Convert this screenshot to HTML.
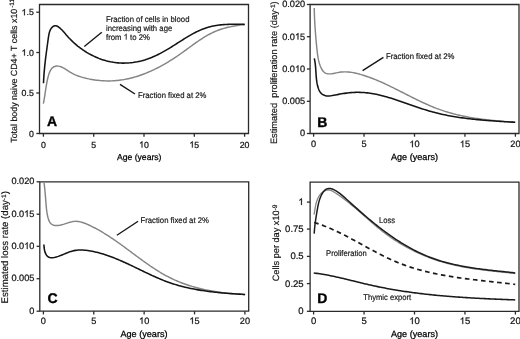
<!DOCTYPE html>
<html><head><meta charset="utf-8"><style>
html,body{margin:0;padding:0;background:#fff;}
svg{display:block;filter:grayscale(1);}
text{font-family:"Liberation Sans", sans-serif;text-rendering:geometricPrecision;}
.t{fill:#111;stroke:#111;stroke-width:0.22px;}
.a{fill:#151515;stroke:#151515;stroke-width:0.18px;}
.x{fill:#000;stroke:#000;stroke-width:0.25px;}
.y{fill:#111;stroke:#111;stroke-width:0.16px;}
.t1{fill:#111;stroke:#111;stroke-width:0.22px;}
.a1{fill:#151515;stroke:#151515;stroke-width:0.18px;}
.p{fill:#000;stroke:#000;stroke-width:0.35px;font-weight:bold;}
</style></head><body>
<svg width="520" height="339" viewBox="0 0 520 339">
<rect width="520" height="339" fill="#fff"/>
<path d="M39.5 4.5H248.5V133.5H39.5Z" fill="none" stroke="#2b2b2b" stroke-width="1.3"/>
<line x1="36.3" y1="133.5" x2="39.5" y2="133.5" stroke="#2b2b2b" stroke-width="1.3"/>
<text class="t" x="33.8" y="136.6" font-size="8.8" text-anchor="end">0</text>
<line x1="36.3" y1="93.0" x2="39.5" y2="93.0" stroke="#2b2b2b" stroke-width="1.3"/>
<text class="t" x="33.8" y="96.1" font-size="8.8" text-anchor="end">0.5</text>
<line x1="36.3" y1="52.5" x2="39.5" y2="52.5" stroke="#2b2b2b" stroke-width="1.3"/>
<path class="t1" d="M763 0H583V1147Q518 1085 412 1023T222 930V1104Q373 1175 486 1276T646 1472H763Z" transform="translate(21.57 55.6) scale(0.004297 -0.004297)" vector-effect="non-scaling-stroke"/>
<text class="t" x="33.8" y="55.6" font-size="8.8" text-anchor="end">&#8199;.0</text>
<line x1="36.3" y1="12.2" x2="39.5" y2="12.2" stroke="#2b2b2b" stroke-width="1.3"/>
<path class="t1" d="M763 0H583V1147Q518 1085 412 1023T222 930V1104Q373 1175 486 1276T646 1472H763Z" transform="translate(21.57 15.3) scale(0.004297 -0.004297)" vector-effect="non-scaling-stroke"/>
<text class="t" x="33.8" y="15.3" font-size="8.8" text-anchor="end">&#8199;.5</text>
<line x1="43.4" y1="133.5" x2="43.4" y2="136.7" stroke="#2b2b2b" stroke-width="1.3"/>
<text class="t" x="43.4" y="147.6" font-size="8.8" text-anchor="middle">0</text>
<line x1="93.7" y1="133.5" x2="93.7" y2="136.7" stroke="#2b2b2b" stroke-width="1.3"/>
<text class="t" x="93.7" y="147.6" font-size="8.8" text-anchor="middle">5</text>
<line x1="144.0" y1="133.5" x2="144.0" y2="136.7" stroke="#2b2b2b" stroke-width="1.3"/>
<path class="t1" d="M763 0H583V1147Q518 1085 412 1023T222 930V1104Q373 1175 486 1276T646 1472H763Z" transform="translate(139.11 147.6) scale(0.004297 -0.004297)" vector-effect="non-scaling-stroke"/>
<text class="t" x="144.0" y="147.6" font-size="8.8" text-anchor="middle">&#8199;0</text>
<line x1="194.3" y1="133.5" x2="194.3" y2="136.7" stroke="#2b2b2b" stroke-width="1.3"/>
<path class="t1" d="M763 0H583V1147Q518 1085 412 1023T222 930V1104Q373 1175 486 1276T646 1472H763Z" transform="translate(189.41 147.6) scale(0.004297 -0.004297)" vector-effect="non-scaling-stroke"/>
<text class="t" x="194.3" y="147.6" font-size="8.8" text-anchor="middle">&#8199;5</text>
<line x1="244.60000000000002" y1="133.5" x2="244.60000000000002" y2="136.7" stroke="#2b2b2b" stroke-width="1.3"/>
<text class="t" x="244.6" y="147.6" font-size="8.8" text-anchor="middle">20</text>
<path d="M43.30 103.60 L43.63 102.07 L43.93 100.56 L44.21 99.05 L44.46 97.56 L44.70 96.08 L44.93 94.60 L45.15 93.13 L45.36 91.67 L45.58 90.20 L45.79 88.73 L46.02 87.26 L46.26 85.78 L46.51 84.29 L46.78 82.80 L47.08 81.29 L47.41 79.77 L47.76 78.24 L48.16 76.68 L48.60 75.12 L49.09 73.57 L49.66 72.09 L50.32 70.69 L51.08 69.42 L51.96 68.32 L52.98 67.41 L54.15 66.74 L55.43 66.30 L56.79 66.09 L58.19 66.10 L59.59 66.34 L60.98 66.77 L62.36 67.36 L63.74 68.09 L65.11 68.90 L66.48 69.77 L67.84 70.67 L69.20 71.56 L70.57 72.40 L71.93 73.17 L73.30 73.89 L74.67 74.54 L76.05 75.15 L77.43 75.70 L78.82 76.21 L80.22 76.68 L81.63 77.12 L83.05 77.52 L84.49 77.90 L85.93 78.26 L87.39 78.59 L88.86 78.91 L90.35 79.20 L91.84 79.48 L93.34 79.73 L94.85 79.96 L96.36 80.16 L97.89 80.34 L99.41 80.50 L100.94 80.64 L102.47 80.75 L104.00 80.83 L105.54 80.89 L107.07 80.93 L108.60 80.94 L110.12 80.92 L111.64 80.88 L113.16 80.81 L114.67 80.71 L116.18 80.59 L117.69 80.45 L119.19 80.28 L120.68 80.08 L122.17 79.86 L123.65 79.62 L125.13 79.36 L126.61 79.07 L128.08 78.76 L129.55 78.43 L131.01 78.07 L132.46 77.70 L133.91 77.30 L135.36 76.88 L136.80 76.45 L138.24 75.99 L139.67 75.52 L141.09 75.02 L142.51 74.51 L143.92 73.98 L145.33 73.43 L146.74 72.87 L148.14 72.29 L149.53 71.69 L150.91 71.07 L152.30 70.44 L153.67 69.80 L155.04 69.13 L156.41 68.46 L157.76 67.77 L159.12 67.07 L160.46 66.35 L161.81 65.62 L163.14 64.88 L164.47 64.12 L165.79 63.36 L167.11 62.58 L168.42 61.79 L169.72 60.99 L171.02 60.18 L172.31 59.36 L173.60 58.53 L174.88 57.69 L176.15 56.84 L177.42 55.99 L178.68 55.12 L179.93 54.25 L181.18 53.37 L182.42 52.49 L183.66 51.60 L184.89 50.71 L186.12 49.81 L187.34 48.92 L188.57 48.02 L189.79 47.13 L191.01 46.23 L192.24 45.35 L193.46 44.46 L194.69 43.58 L195.92 42.71 L197.15 41.85 L198.39 41.00 L199.63 40.16 L200.88 39.33 L202.14 38.52 L203.40 37.72 L204.68 36.94 L205.96 36.17 L207.25 35.42 L208.56 34.70 L209.87 33.99 L211.20 33.31 L212.55 32.65 L213.90 32.01 L215.27 31.40 L216.66 30.82 L218.07 30.26 L219.49 29.74 L220.93 29.24 L222.38 28.78 L223.86 28.34 L225.34 27.93 L226.83 27.55 L228.34 27.19 L229.85 26.85 L231.36 26.54 L232.87 26.24 L234.39 25.96 L235.90 25.70 L237.41 25.46 L238.91 25.22 L240.40 25.00 L241.88 24.79 L243.35 24.59 L244.80 24.40" fill="none" stroke="#858585" stroke-width="1.45"/>
<path d="M43.50 83.20 L43.56 81.67 L43.64 80.15 L43.72 78.63 L43.81 77.11 L43.91 75.61 L44.02 74.10 L44.14 72.60 L44.26 71.10 L44.40 69.61 L44.54 68.12 L44.68 66.63 L44.84 65.14 L45.00 63.66 L45.16 62.17 L45.33 60.68 L45.51 59.20 L45.69 57.71 L45.87 56.23 L46.06 54.74 L46.26 53.25 L46.45 51.76 L46.65 50.27 L46.86 48.77 L47.06 47.27 L47.27 45.76 L47.48 44.25 L47.69 42.74 L47.90 41.22 L48.11 39.70 L48.33 38.17 L48.54 36.63 L48.78 35.11 L49.08 33.60 L49.45 32.14 L49.94 30.73 L50.56 29.40 L51.36 28.16 L52.34 27.04 L53.48 26.16 L54.73 25.68 L56.05 25.73 L57.40 26.26 L58.72 27.12 L59.98 28.14 L61.16 29.21 L62.27 30.32 L63.32 31.46 L64.33 32.61 L65.32 33.76 L66.29 34.92 L67.28 36.05 L68.28 37.16 L69.29 38.26 L70.32 39.33 L71.37 40.39 L72.43 41.42 L73.51 42.44 L74.60 43.43 L75.72 44.41 L76.85 45.36 L78.00 46.30 L79.18 47.21 L80.37 48.11 L81.58 48.99 L82.81 49.85 L84.06 50.69 L85.33 51.50 L86.61 52.30 L87.92 53.07 L89.24 53.82 L90.57 54.55 L91.92 55.25 L93.29 55.93 L94.66 56.58 L96.05 57.20 L97.46 57.80 L98.87 58.37 L100.30 58.91 L101.73 59.42 L103.17 59.89 L104.62 60.34 L106.08 60.76 L107.55 61.14 L109.02 61.49 L110.50 61.81 L111.98 62.09 L113.46 62.34 L114.95 62.55 L116.45 62.73 L117.94 62.87 L119.44 62.98 L120.94 63.06 L122.43 63.11 L123.93 63.12 L125.43 63.10 L126.93 63.05 L128.42 62.96 L129.92 62.85 L131.41 62.70 L132.89 62.52 L134.38 62.30 L135.86 62.06 L137.33 61.79 L138.80 61.48 L140.26 61.15 L141.72 60.79 L143.17 60.39 L144.61 59.97 L146.04 59.51 L147.47 59.03 L148.88 58.52 L150.29 57.98 L151.69 57.42 L153.08 56.83 L154.46 56.22 L155.84 55.58 L157.20 54.93 L158.56 54.26 L159.91 53.57 L161.26 52.86 L162.60 52.14 L163.93 51.40 L165.25 50.65 L166.57 49.89 L167.88 49.12 L169.18 48.33 L170.48 47.54 L171.77 46.75 L173.06 45.94 L174.34 45.14 L175.61 44.33 L176.88 43.52 L178.15 42.70 L179.41 41.89 L180.67 41.08 L181.93 40.28 L183.19 39.48 L184.46 38.68 L185.73 37.90 L187.00 37.12 L188.28 36.35 L189.57 35.60 L190.86 34.86 L192.17 34.13 L193.49 33.42 L194.82 32.73 L196.17 32.05 L197.53 31.40 L198.90 30.77 L200.29 30.16 L201.69 29.57 L203.11 29.02 L204.53 28.49 L205.96 27.99 L207.41 27.53 L208.86 27.10 L210.32 26.70 L211.78 26.35 L213.25 26.02 L214.73 25.73 L216.21 25.48 L217.70 25.25 L219.19 25.05 L220.68 24.88 L222.18 24.73 L223.68 24.61 L225.19 24.51 L226.69 24.42 L228.20 24.36 L229.71 24.31 L231.22 24.28 L232.73 24.27 L234.24 24.26 L235.76 24.26 L237.27 24.27 L238.78 24.29 L240.29 24.32 L241.79 24.34 L243.30 24.37 L244.80 24.40" fill="none" stroke="#141414" stroke-width="1.55"/>
<line x1="84.3" y1="46.6" x2="101.8" y2="32.3" stroke="#141414" stroke-width="1.35"/>
<line x1="120" y1="84.4" x2="135" y2="94" stroke="#141414" stroke-width="1.35"/>
<text class="a" transform="translate(106 21.8) scale(0.945 1)" font-size="8.2">Fraction of cells in blood</text>
<text class="a" transform="translate(106 30.7) scale(0.945 1)" font-size="8.2">increasing with age</text>
<path class="a1" d="M763 0H583V1147Q518 1085 412 1023T222 930V1104Q373 1175 486 1276T646 1472H763Z" transform="translate(123.65 39.6) scale(0.003784 -0.004004)" vector-effect="non-scaling-stroke"/>
<text class="a" transform="translate(106 39.6) scale(0.945 1)" font-size="8.2">from &#8199; to 2%</text>
<text class="a" transform="translate(138 97.6) scale(0.945 1)" font-size="8.2">Fraction fixed at 2%</text>
<text class="p" x="47.0" y="125.5" font-size="14">A</text>
<text class="x" x="139.2" y="159.5" font-size="8.65" text-anchor="middle">Age (years)</text>
<text class="y" transform="translate(16.8 142.8) rotate(-90)" font-size="8.9">Total body naive CD4+ T cells x10<tspan dx="0.9" dy="-2.4" font-size="6.5">-11</tspan></text>
<path d="M310.1 4.5H519V133.5H310.1Z" fill="none" stroke="#2b2b2b" stroke-width="1.3"/>
<line x1="306.90000000000003" y1="133.5" x2="310.1" y2="133.5" stroke="#2b2b2b" stroke-width="1.3"/>
<text class="t" x="305.2" y="136.4" font-size="9.2" text-anchor="end">0</text>
<line x1="306.90000000000003" y1="101.3" x2="310.1" y2="101.3" stroke="#2b2b2b" stroke-width="1.3"/>
<text class="t" x="305.2" y="104.2" font-size="9.2" text-anchor="end">0.005</text>
<line x1="306.90000000000003" y1="69.0" x2="310.1" y2="69.0" stroke="#2b2b2b" stroke-width="1.3"/>
<path class="t1" d="M763 0H583V1147Q518 1085 412 1023T222 930V1104Q373 1175 486 1276T646 1472H763Z" transform="translate(294.97 71.9) scale(0.004492 -0.004492)" vector-effect="non-scaling-stroke"/>
<text class="t" x="305.2" y="71.9" font-size="9.2" text-anchor="end">0.0&#8199;0</text>
<line x1="306.90000000000003" y1="36.7" x2="310.1" y2="36.7" stroke="#2b2b2b" stroke-width="1.3"/>
<path class="t1" d="M763 0H583V1147Q518 1085 412 1023T222 930V1104Q373 1175 486 1276T646 1472H763Z" transform="translate(294.97 39.6) scale(0.004492 -0.004492)" vector-effect="non-scaling-stroke"/>
<text class="t" x="305.2" y="39.6" font-size="9.2" text-anchor="end">0.0&#8199;5</text>
<line x1="306.90000000000003" y1="4.5" x2="310.1" y2="4.5" stroke="#2b2b2b" stroke-width="1.3"/>
<text class="t" x="305.2" y="7.4" font-size="9.2" text-anchor="end">0.020</text>
<line x1="313.6" y1="133.5" x2="313.6" y2="136.7" stroke="#2b2b2b" stroke-width="1.3"/>
<text class="t" x="313.6" y="147.2" font-size="9.2" text-anchor="middle">0</text>
<line x1="364.05" y1="133.5" x2="364.05" y2="136.7" stroke="#2b2b2b" stroke-width="1.3"/>
<text class="t" x="364.05" y="147.2" font-size="9.2" text-anchor="middle">5</text>
<line x1="414.5" y1="133.5" x2="414.5" y2="136.7" stroke="#2b2b2b" stroke-width="1.3"/>
<path class="t1" d="M763 0H583V1147Q518 1085 412 1023T222 930V1104Q373 1175 486 1276T646 1472H763Z" transform="translate(409.38 147.2) scale(0.004492 -0.004492)" vector-effect="non-scaling-stroke"/>
<text class="t" x="414.5" y="147.2" font-size="9.2" text-anchor="middle">&#8199;0</text>
<line x1="464.95000000000005" y1="133.5" x2="464.95000000000005" y2="136.7" stroke="#2b2b2b" stroke-width="1.3"/>
<path class="t1" d="M763 0H583V1147Q518 1085 412 1023T222 930V1104Q373 1175 486 1276T646 1472H763Z" transform="translate(459.83 147.2) scale(0.004492 -0.004492)" vector-effect="non-scaling-stroke"/>
<text class="t" x="464.95" y="147.2" font-size="9.2" text-anchor="middle">&#8199;5</text>
<line x1="515.4000000000001" y1="133.5" x2="515.4000000000001" y2="136.7" stroke="#2b2b2b" stroke-width="1.3"/>
<text class="t" x="515.4" y="147.2" font-size="9.2" text-anchor="middle">20</text>
<path d="M314.25 8.10 L314.28 9.62 L314.31 11.15 L314.36 12.67 L314.40 14.19 L314.46 15.70 L314.52 17.22 L314.58 18.73 L314.65 20.24 L314.73 21.75 L314.81 23.26 L314.89 24.77 L314.99 26.28 L315.08 27.79 L315.19 29.29 L315.29 30.80 L315.40 32.30 L315.52 33.81 L315.64 35.31 L315.77 36.82 L315.90 38.32 L316.03 39.82 L316.17 41.33 L316.31 42.83 L316.46 44.34 L316.61 45.84 L316.76 47.35 L316.92 48.85 L317.08 50.36 L317.24 51.87 L317.42 53.37 L317.62 54.88 L317.84 56.39 L318.09 57.90 L318.39 59.41 L318.73 60.92 L319.12 62.43 L319.58 63.94 L320.10 65.44 L320.69 66.94 L321.36 68.38 L322.12 69.74 L322.97 70.95 L323.92 71.99 L324.98 72.81 L326.13 73.38 L327.39 73.73 L328.73 73.88 L330.14 73.88 L331.61 73.74 L333.13 73.52 L334.68 73.23 L336.26 72.91 L337.86 72.59 L339.45 72.31 L341.03 72.09 L342.60 71.94 L344.15 71.87 L345.69 71.86 L347.21 71.92 L348.73 72.03 L350.23 72.19 L351.72 72.40 L353.20 72.66 L354.67 72.95 L356.14 73.28 L357.59 73.63 L359.04 74.02 L360.48 74.42 L361.92 74.84 L363.35 75.28 L364.78 75.73 L366.20 76.21 L367.62 76.69 L369.04 77.19 L370.45 77.71 L371.85 78.24 L373.25 78.78 L374.65 79.34 L376.04 79.90 L377.43 80.48 L378.82 81.07 L380.20 81.67 L381.58 82.28 L382.96 82.90 L384.34 83.53 L385.71 84.16 L387.08 84.81 L388.45 85.46 L389.82 86.12 L391.18 86.78 L392.54 87.45 L393.91 88.12 L395.27 88.80 L396.63 89.48 L397.99 90.17 L399.35 90.85 L400.70 91.54 L402.06 92.23 L403.42 92.92 L404.78 93.62 L406.14 94.31 L407.50 95.00 L408.86 95.69 L410.22 96.38 L411.58 97.06 L412.94 97.74 L414.30 98.42 L415.67 99.10 L417.04 99.77 L418.40 100.43 L419.78 101.09 L421.15 101.74 L422.52 102.39 L423.90 103.03 L425.28 103.66 L426.67 104.28 L428.05 104.89 L429.45 105.50 L430.84 106.09 L432.24 106.67 L433.64 107.24 L435.04 107.80 L436.45 108.35 L437.87 108.88 L439.29 109.40 L440.71 109.91 L442.14 110.40 L443.57 110.88 L445.01 111.34 L446.45 111.79 L447.89 112.23 L449.34 112.65 L450.80 113.06 L452.26 113.46 L453.72 113.85 L455.18 114.22 L456.65 114.59 L458.12 114.94 L459.60 115.28 L461.07 115.61 L462.56 115.93 L464.04 116.23 L465.53 116.53 L467.01 116.82 L468.51 117.10 L470.00 117.37 L471.49 117.63 L472.99 117.88 L474.49 118.12 L475.99 118.35 L477.50 118.58 L479.00 118.79 L480.51 119.00 L482.01 119.21 L483.52 119.40 L485.03 119.59 L486.54 119.77 L488.05 119.95 L489.56 120.11 L491.07 120.28 L492.58 120.44 L494.09 120.59 L495.61 120.74 L497.12 120.88 L498.63 121.02 L500.14 121.15 L501.65 121.28 L503.16 121.40 L504.67 121.53 L506.18 121.64 L507.68 121.76 L509.19 121.87 L510.69 121.98 L512.20 122.09 L513.70 122.20 L515.20 122.30" fill="none" stroke="#858585" stroke-width="1.45"/>
<path d="M314.30 58.30 L314.62 59.82 L314.89 61.33 L315.11 62.84 L315.30 64.33 L315.46 65.82 L315.59 67.31 L315.70 68.80 L315.80 70.28 L315.89 71.77 L315.99 73.27 L316.09 74.77 L316.20 76.27 L316.33 77.79 L316.49 79.32 L316.68 80.86 L316.91 82.41 L317.19 83.98 L317.52 85.56 L317.92 87.11 L318.40 88.60 L318.98 90.03 L319.66 91.34 L320.47 92.53 L321.42 93.56 L322.50 94.41 L323.69 95.09 L324.99 95.59 L326.36 95.90 L327.78 96.03 L329.25 96.00 L330.75 95.84 L332.28 95.59 L333.82 95.29 L335.37 94.98 L336.91 94.68 L338.45 94.38 L339.99 94.10 L341.53 93.84 L343.06 93.59 L344.59 93.36 L346.12 93.14 L347.65 92.95 L349.17 92.78 L350.69 92.64 L352.21 92.52 L353.72 92.43 L355.23 92.37 L356.74 92.33 L358.24 92.33 L359.74 92.36 L361.24 92.41 L362.73 92.49 L364.22 92.60 L365.71 92.73 L367.20 92.89 L368.68 93.07 L370.16 93.28 L371.63 93.50 L373.11 93.75 L374.58 94.02 L376.05 94.31 L377.51 94.61 L378.98 94.94 L380.44 95.28 L381.90 95.64 L383.36 96.01 L384.82 96.40 L386.28 96.80 L387.73 97.22 L389.18 97.64 L390.64 98.08 L392.09 98.53 L393.54 98.99 L394.99 99.46 L396.44 99.93 L397.88 100.41 L399.33 100.90 L400.78 101.40 L402.22 101.90 L403.67 102.40 L405.12 102.90 L406.56 103.41 L408.01 103.92 L409.46 104.43 L410.90 104.94 L412.35 105.45 L413.80 105.95 L415.25 106.46 L416.70 106.96 L418.15 107.45 L419.60 107.94 L421.05 108.42 L422.50 108.90 L423.96 109.37 L425.41 109.83 L426.87 110.27 L428.33 110.71 L429.79 111.14 L431.25 111.56 L432.71 111.96 L434.18 112.35 L435.65 112.73 L437.12 113.10 L438.59 113.46 L440.06 113.81 L441.54 114.15 L443.01 114.47 L444.49 114.79 L445.97 115.09 L447.45 115.39 L448.93 115.68 L450.42 115.95 L451.90 116.22 L453.39 116.48 L454.87 116.73 L456.36 116.97 L457.85 117.21 L459.35 117.43 L460.84 117.65 L462.33 117.86 L463.83 118.06 L465.33 118.26 L466.82 118.45 L468.32 118.63 L469.82 118.81 L471.32 118.98 L472.83 119.14 L474.33 119.30 L475.83 119.46 L477.34 119.61 L478.85 119.75 L480.35 119.89 L481.86 120.02 L483.37 120.15 L484.88 120.28 L486.39 120.40 L487.90 120.52 L489.41 120.63 L490.93 120.75 L492.44 120.85 L493.95 120.96 L495.47 121.07 L496.98 121.17 L498.50 121.27 L500.01 121.37 L501.53 121.46 L503.05 121.56 L504.57 121.65 L506.08 121.74 L507.60 121.84 L509.12 121.93 L510.64 122.02 L512.16 122.11 L513.68 122.21 L515.20 122.30" fill="none" stroke="#141414" stroke-width="1.55"/>
<line x1="362.6" y1="70.6" x2="383.4" y2="57.4" stroke="#141414" stroke-width="1.35"/>
<text class="a" transform="translate(386 59) scale(0.945 1)" font-size="8.2">Fraction fixed at 2%</text>
<text class="p" x="317.2" y="126.6" font-size="14">B</text>
<text class="x" x="414.5" y="160.2" font-size="9.1" text-anchor="middle">Age (years)</text>
<text class="y" transform="translate(277.1 144.1) rotate(-90)" font-size="9.27" xml:space="preserve">Estimated  proliferation rate (day<tspan dy="-2.2" font-size="6.5">-1</tspan><tspan dy="2.2">)</tspan></text>
<path d="M39.8 181.8H248.7V311.2H39.8Z" fill="none" stroke="#2b2b2b" stroke-width="1.3"/>
<line x1="36.599999999999994" y1="311.2" x2="39.8" y2="311.2" stroke="#2b2b2b" stroke-width="1.3"/>
<text class="t" x="34.4" y="313.8" font-size="9.2" text-anchor="end">0</text>
<line x1="36.599999999999994" y1="278.7" x2="39.8" y2="278.7" stroke="#2b2b2b" stroke-width="1.3"/>
<text class="t" x="34.4" y="281.3" font-size="9.2" text-anchor="end">0.005</text>
<line x1="36.599999999999994" y1="246.3" x2="39.8" y2="246.3" stroke="#2b2b2b" stroke-width="1.3"/>
<path class="t1" d="M763 0H583V1147Q518 1085 412 1023T222 930V1104Q373 1175 486 1276T646 1472H763Z" transform="translate(24.17 248.9) scale(0.004492 -0.004492)" vector-effect="non-scaling-stroke"/>
<text class="t" x="34.4" y="248.9" font-size="9.2" text-anchor="end">0.0&#8199;0</text>
<line x1="36.599999999999994" y1="214.2" x2="39.8" y2="214.2" stroke="#2b2b2b" stroke-width="1.3"/>
<path class="t1" d="M763 0H583V1147Q518 1085 412 1023T222 930V1104Q373 1175 486 1276T646 1472H763Z" transform="translate(24.17 216.8) scale(0.004492 -0.004492)" vector-effect="non-scaling-stroke"/>
<text class="t" x="34.4" y="216.8" font-size="9.2" text-anchor="end">0.0&#8199;5</text>
<line x1="36.599999999999994" y1="181.8" x2="39.8" y2="181.8" stroke="#2b2b2b" stroke-width="1.3"/>
<text class="t" x="34.4" y="184.4" font-size="9.2" text-anchor="end">0.020</text>
<line x1="43.4" y1="311.2" x2="43.4" y2="314.4" stroke="#2b2b2b" stroke-width="1.3"/>
<text class="t" x="43.4" y="323.8" font-size="9.2" text-anchor="middle">0</text>
<line x1="93.775" y1="311.2" x2="93.775" y2="314.4" stroke="#2b2b2b" stroke-width="1.3"/>
<text class="t" x="93.78" y="323.8" font-size="9.2" text-anchor="middle">5</text>
<line x1="144.15" y1="311.2" x2="144.15" y2="314.4" stroke="#2b2b2b" stroke-width="1.3"/>
<path class="t1" d="M763 0H583V1147Q518 1085 412 1023T222 930V1104Q373 1175 486 1276T646 1472H763Z" transform="translate(139.03 323.8) scale(0.004492 -0.004492)" vector-effect="non-scaling-stroke"/>
<text class="t" x="144.15" y="323.8" font-size="9.2" text-anchor="middle">&#8199;0</text>
<line x1="194.525" y1="311.2" x2="194.525" y2="314.4" stroke="#2b2b2b" stroke-width="1.3"/>
<path class="t1" d="M763 0H583V1147Q518 1085 412 1023T222 930V1104Q373 1175 486 1276T646 1472H763Z" transform="translate(189.41 323.8) scale(0.004492 -0.004492)" vector-effect="non-scaling-stroke"/>
<text class="t" x="194.53" y="323.8" font-size="9.2" text-anchor="middle">&#8199;5</text>
<line x1="244.9" y1="311.2" x2="244.9" y2="314.4" stroke="#2b2b2b" stroke-width="1.3"/>
<text class="t" x="244.9" y="323.8" font-size="9.2" text-anchor="middle">20</text>
<path d="M44.00 182.50 L44.19 183.97 L44.37 185.46 L44.55 186.96 L44.71 188.47 L44.86 190.00 L45.01 191.52 L45.15 193.06 L45.28 194.59 L45.41 196.12 L45.54 197.65 L45.67 199.17 L45.79 200.69 L45.91 202.19 L46.03 203.67 L46.15 205.14 L46.27 206.60 L46.40 208.05 L46.56 209.50 L46.74 210.97 L46.95 212.47 L47.21 214.02 L47.52 215.61 L47.89 217.25 L48.34 218.86 L48.89 220.39 L49.56 221.80 L50.36 223.01 L51.30 223.98 L52.39 224.70 L53.61 225.18 L54.93 225.45 L56.35 225.54 L57.84 225.47 L59.37 225.27 L60.94 224.96 L62.52 224.57 L64.10 224.12 L65.65 223.64 L67.17 223.15 L68.65 222.67 L70.12 222.24 L71.57 221.87 L73.01 221.58 L74.45 221.40 L75.90 221.34 L77.34 221.41 L78.79 221.59 L80.24 221.87 L81.69 222.24 L83.13 222.69 L84.57 223.20 L86.00 223.77 L87.42 224.38 L88.84 225.03 L90.24 225.69 L91.63 226.37 L93.01 227.06 L94.38 227.76 L95.73 228.48 L97.08 229.21 L98.42 229.95 L99.74 230.69 L101.06 231.45 L102.37 232.22 L103.67 233.00 L104.96 233.79 L106.24 234.59 L107.52 235.40 L108.79 236.21 L110.05 237.04 L111.31 237.87 L112.56 238.71 L113.81 239.55 L115.05 240.41 L116.28 241.27 L117.52 242.13 L118.75 243.00 L119.97 243.88 L121.20 244.76 L122.42 245.64 L123.64 246.53 L124.86 247.42 L126.07 248.32 L127.29 249.22 L128.51 250.12 L129.72 251.03 L130.94 251.93 L132.16 252.84 L133.38 253.75 L134.60 254.66 L135.82 255.57 L137.05 256.48 L138.27 257.38 L139.50 258.29 L140.73 259.19 L141.96 260.09 L143.20 260.98 L144.44 261.87 L145.68 262.76 L146.93 263.64 L148.18 264.51 L149.43 265.38 L150.69 266.24 L151.95 267.09 L153.22 267.93 L154.49 268.77 L155.77 269.59 L157.05 270.41 L158.34 271.21 L159.63 272.00 L160.93 272.78 L162.24 273.55 L163.55 274.30 L164.87 275.05 L166.19 275.77 L167.53 276.48 L168.87 277.18 L170.22 277.86 L171.57 278.52 L172.94 279.17 L174.31 279.80 L175.68 280.41 L177.07 281.01 L178.46 281.59 L179.86 282.16 L181.26 282.71 L182.68 283.24 L184.09 283.76 L185.52 284.27 L186.94 284.76 L188.38 285.24 L189.82 285.70 L191.26 286.15 L192.71 286.59 L194.17 287.01 L195.62 287.42 L197.09 287.81 L198.56 288.19 L200.03 288.56 L201.50 288.92 L202.98 289.26 L204.46 289.59 L205.95 289.91 L207.44 290.22 L208.93 290.51 L210.42 290.79 L211.92 291.06 L213.42 291.32 L214.92 291.57 L216.42 291.81 L217.93 292.04 L219.43 292.26 L220.94 292.46 L222.45 292.66 L223.96 292.84 L225.47 293.02 L226.98 293.19 L228.49 293.34 L230.01 293.49 L231.52 293.63 L233.03 293.76 L234.54 293.88 L236.05 293.99 L237.56 294.10 L239.07 294.19 L240.58 294.28 L242.09 294.36 L243.60 294.43 L245.10 294.50" fill="none" stroke="#858585" stroke-width="1.45"/>
<path d="M43.90 244.50 L43.97 245.76 L44.09 247.21 L44.29 248.81 L44.60 250.48 L45.05 252.14 L45.65 253.73 L46.42 255.13 L47.34 256.25 L48.44 257.03 L49.67 257.51 L51.00 257.72 L52.42 257.72 L53.88 257.54 L55.37 257.23 L56.84 256.83 L58.30 256.37 L59.75 255.85 L61.18 255.29 L62.60 254.71 L64.02 254.12 L65.44 253.52 L66.85 252.94 L68.27 252.38 L69.69 251.85 L71.13 251.38 L72.57 250.97 L74.03 250.63 L75.50 250.37 L76.98 250.19 L78.47 250.07 L79.97 250.01 L81.48 250.01 L82.99 250.06 L84.51 250.17 L86.03 250.32 L87.54 250.51 L89.06 250.73 L90.57 250.99 L92.07 251.27 L93.56 251.57 L95.05 251.90 L96.53 252.25 L98.00 252.61 L99.47 253.00 L100.93 253.41 L102.38 253.83 L103.83 254.27 L105.27 254.73 L106.70 255.21 L108.13 255.70 L109.55 256.20 L110.97 256.72 L112.39 257.26 L113.80 257.80 L115.20 258.36 L116.60 258.93 L118.00 259.51 L119.39 260.10 L120.78 260.70 L122.16 261.31 L123.55 261.93 L124.93 262.55 L126.31 263.18 L127.68 263.82 L129.06 264.46 L130.43 265.11 L131.80 265.76 L133.17 266.42 L134.54 267.08 L135.90 267.74 L137.27 268.40 L138.64 269.06 L140.00 269.73 L141.37 270.39 L142.73 271.05 L144.10 271.71 L145.47 272.36 L146.84 273.02 L148.21 273.67 L149.58 274.31 L150.95 274.95 L152.33 275.59 L153.71 276.21 L155.09 276.83 L156.47 277.44 L157.86 278.05 L159.25 278.64 L160.64 279.23 L162.04 279.80 L163.44 280.36 L164.84 280.91 L166.25 281.45 L167.66 281.97 L169.08 282.48 L170.50 282.98 L171.93 283.46 L173.37 283.93 L174.81 284.38 L176.25 284.82 L177.70 285.24 L179.15 285.65 L180.60 286.05 L182.06 286.43 L183.53 286.80 L185.00 287.16 L186.47 287.51 L187.94 287.85 L189.42 288.17 L190.91 288.48 L192.39 288.78 L193.88 289.07 L195.37 289.35 L196.86 289.62 L198.36 289.88 L199.86 290.13 L201.36 290.37 L202.86 290.60 L204.36 290.83 L205.87 291.04 L207.37 291.25 L208.88 291.44 L210.39 291.63 L211.90 291.82 L213.41 291.99 L214.93 292.16 L216.44 292.32 L217.95 292.48 L219.47 292.63 L220.98 292.77 L222.49 292.91 L224.01 293.04 L225.52 293.17 L227.03 293.29 L228.55 293.41 L230.06 293.52 L231.57 293.63 L233.08 293.74 L234.59 293.84 L236.09 293.95 L237.60 294.04 L239.10 294.14 L240.61 294.23 L242.11 294.32 L243.60 294.41 L245.10 294.50" fill="none" stroke="#141414" stroke-width="1.55"/>
<line x1="116.9" y1="235.3" x2="138.1" y2="221.3" stroke="#141414" stroke-width="1.35"/>
<text class="a" transform="translate(140.5 223.3) scale(0.945 1)" font-size="8.2">Fraction fixed at 2%</text>
<text class="p" x="47.4" y="303.2" font-size="14">C</text>
<text class="x" x="144" y="336.9" font-size="9.1" text-anchor="middle">Age (years)</text>
<text class="y" transform="translate(8.0 303.4) rotate(-90)" font-size="9.65">Estimated loss rate (day<tspan dy="-2.2" font-size="6.5">-1</tspan><tspan dy="2.2">)</tspan></text>
<path d="M310.1 182.2H519V311.3H310.1Z" fill="none" stroke="#2b2b2b" stroke-width="1.3"/>
<line x1="306.90000000000003" y1="311.3" x2="310.1" y2="311.3" stroke="#2b2b2b" stroke-width="1.3"/>
<text class="t" x="303.6" y="314.2" font-size="9.5" text-anchor="end">0</text>
<line x1="306.90000000000003" y1="283.6" x2="310.1" y2="283.6" stroke="#2b2b2b" stroke-width="1.3"/>
<text class="t" x="303.6" y="286.5" font-size="9.5" text-anchor="end">0.25</text>
<line x1="306.90000000000003" y1="256.4" x2="310.1" y2="256.4" stroke="#2b2b2b" stroke-width="1.3"/>
<text class="t" x="303.6" y="259.3" font-size="9.5" text-anchor="end">0.5</text>
<line x1="306.90000000000003" y1="229.1" x2="310.1" y2="229.1" stroke="#2b2b2b" stroke-width="1.3"/>
<text class="t" x="303.6" y="232.0" font-size="9.5" text-anchor="end">0.75</text>
<line x1="306.90000000000003" y1="202.1" x2="310.1" y2="202.1" stroke="#2b2b2b" stroke-width="1.3"/>
<path class="t1" d="M763 0H583V1147Q518 1085 412 1023T222 930V1104Q373 1175 486 1276T646 1472H763Z" transform="translate(298.32 205.0) scale(0.004639 -0.004639)" vector-effect="non-scaling-stroke"/>
<text class="t" x="303.6" y="205.0" font-size="9.5" text-anchor="end">&#8199;</text>
<line x1="313.6" y1="311.3" x2="313.6" y2="314.5" stroke="#2b2b2b" stroke-width="1.3"/>
<text class="t" x="313.6" y="324.1" font-size="9.5" text-anchor="middle">0</text>
<line x1="364.05" y1="311.3" x2="364.05" y2="314.5" stroke="#2b2b2b" stroke-width="1.3"/>
<text class="t" x="364.05" y="324.1" font-size="9.5" text-anchor="middle">5</text>
<line x1="414.5" y1="311.3" x2="414.5" y2="314.5" stroke="#2b2b2b" stroke-width="1.3"/>
<path class="t1" d="M763 0H583V1147Q518 1085 412 1023T222 930V1104Q373 1175 486 1276T646 1472H763Z" transform="translate(409.22 324.1) scale(0.004639 -0.004639)" vector-effect="non-scaling-stroke"/>
<text class="t" x="414.5" y="324.1" font-size="9.5" text-anchor="middle">&#8199;0</text>
<line x1="464.95000000000005" y1="311.3" x2="464.95000000000005" y2="314.5" stroke="#2b2b2b" stroke-width="1.3"/>
<path class="t1" d="M763 0H583V1147Q518 1085 412 1023T222 930V1104Q373 1175 486 1276T646 1472H763Z" transform="translate(459.67 324.1) scale(0.004639 -0.004639)" vector-effect="non-scaling-stroke"/>
<text class="t" x="464.95" y="324.1" font-size="9.5" text-anchor="middle">&#8199;5</text>
<line x1="515.4000000000001" y1="311.3" x2="515.4000000000001" y2="314.5" stroke="#2b2b2b" stroke-width="1.3"/>
<text class="t" x="515.4" y="324.1" font-size="9.5" text-anchor="middle">20</text>
<path d="M314.00 214.50 L314.31 213.07 L314.57 211.63 L314.82 210.16 L315.06 208.69 L315.31 207.20 L315.59 205.71 L315.91 204.20 L316.29 202.70 L316.74 201.20 L317.28 199.70 L317.93 198.21 L318.68 196.76 L319.53 195.38 L320.48 194.09 L321.53 192.94 L322.68 191.94 L323.92 191.13 L325.23 190.52 L326.59 190.14 L327.96 189.99 L329.33 190.09 L330.68 190.44 L332.02 190.98 L333.34 191.66 L334.64 192.44 L335.93 193.27 L337.21 194.13 L338.48 194.99 L339.73 195.86 L340.98 196.75 L342.22 197.65 L343.44 198.56 L344.66 199.48 L345.87 200.40 L347.06 201.34 L348.26 202.28 L349.44 203.24 L350.62 204.20 L351.79 205.16 L352.96 206.13 L354.12 207.11 L355.27 208.09 L356.43 209.08 L357.57 210.07 L358.72 211.06 L359.86 212.06 L361.00 213.06 L362.14 214.05 L363.28 215.06 L364.41 216.06 L365.55 217.06 L366.69 218.06 L367.82 219.06 L368.96 220.05 L370.10 221.05 L371.24 222.04 L372.39 223.03 L373.54 224.01 L374.69 224.99 L375.84 225.96 L377.00 226.93 L378.17 227.89 L379.34 228.85 L380.52 229.79 L381.70 230.73 L382.90 231.66 L384.09 232.59 L385.30 233.50 L386.52 234.40 L387.74 235.29 L388.97 236.17 L390.21 237.04 L391.46 237.91 L392.72 238.76 L393.98 239.60 L395.25 240.43 L396.53 241.24 L397.82 242.05 L399.11 242.85 L400.41 243.64 L401.72 244.41 L403.03 245.18 L404.35 245.93 L405.68 246.67 L407.01 247.40 L408.35 248.12 L409.70 248.83 L411.05 249.53 L412.41 250.22 L413.77 250.89 L415.14 251.56 L416.51 252.21 L417.89 252.85 L419.28 253.48 L420.67 254.09 L422.06 254.70 L423.46 255.29 L424.86 255.87 L426.27 256.44 L427.68 257.00 L429.10 257.54 L430.52 258.07 L431.95 258.59 L433.38 259.10 L434.81 259.60 L436.24 260.08 L437.68 260.55 L439.13 261.01 L440.57 261.45 L442.02 261.89 L443.47 262.31 L444.93 262.71 L446.39 263.11 L447.85 263.50 L449.31 263.87 L450.78 264.23 L452.24 264.58 L453.72 264.93 L455.19 265.26 L456.66 265.58 L458.14 265.89 L459.62 266.19 L461.10 266.49 L462.59 266.77 L464.07 267.05 L465.56 267.32 L467.05 267.58 L468.54 267.84 L470.03 268.08 L471.53 268.32 L473.02 268.55 L474.52 268.78 L476.02 269.00 L477.52 269.21 L479.02 269.42 L480.52 269.63 L482.03 269.83 L483.53 270.02 L485.03 270.21 L486.54 270.39 L488.05 270.57 L489.55 270.75 L491.06 270.93 L492.57 271.10 L494.08 271.27 L495.59 271.43 L497.10 271.60 L498.61 271.76 L500.12 271.92 L501.62 272.08 L503.13 272.24 L504.64 272.39 L506.15 272.55 L507.66 272.71 L509.17 272.86 L510.68 273.02 L512.19 273.18 L513.69 273.34 L515.20 273.50" fill="none" stroke="#858585" stroke-width="1.3"/>
<path d="M314.20 233.60 L314.29 232.05 L314.41 230.52 L314.54 229.00 L314.68 227.49 L314.84 225.99 L315.02 224.50 L315.21 223.02 L315.41 221.54 L315.62 220.06 L315.84 218.59 L316.07 217.12 L316.31 215.64 L316.55 214.16 L316.80 212.68 L317.06 211.19 L317.32 209.69 L317.58 208.18 L317.85 206.67 L318.15 205.16 L318.48 203.64 L318.84 202.14 L319.26 200.64 L319.72 199.15 L320.26 197.68 L320.86 196.23 L321.54 194.80 L322.31 193.41 L323.17 192.09 L324.12 190.91 L325.15 189.91 L326.26 189.15 L327.46 188.67 L328.74 188.49 L330.07 188.55 L331.44 188.83 L332.82 189.30 L334.20 189.91 L335.57 190.63 L336.89 191.42 L338.18 192.27 L339.43 193.18 L340.66 194.12 L341.86 195.10 L343.03 196.11 L344.19 197.14 L345.34 198.17 L346.49 199.21 L347.63 200.24 L348.77 201.27 L349.90 202.30 L351.03 203.32 L352.16 204.34 L353.29 205.35 L354.42 206.36 L355.55 207.37 L356.68 208.38 L357.81 209.38 L358.93 210.38 L360.06 211.37 L361.19 212.36 L362.32 213.35 L363.46 214.33 L364.59 215.31 L365.73 216.29 L366.87 217.26 L368.02 218.23 L369.17 219.20 L370.32 220.16 L371.48 221.12 L372.64 222.07 L373.81 223.02 L374.98 223.97 L376.16 224.92 L377.35 225.86 L378.54 226.79 L379.73 227.72 L380.93 228.65 L382.14 229.57 L383.35 230.48 L384.57 231.39 L385.79 232.29 L387.02 233.19 L388.25 234.08 L389.49 234.96 L390.73 235.84 L391.98 236.71 L393.24 237.57 L394.50 238.42 L395.76 239.27 L397.03 240.10 L398.31 240.93 L399.59 241.75 L400.88 242.56 L402.17 243.36 L403.47 244.15 L404.77 244.93 L406.08 245.70 L407.39 246.46 L408.71 247.21 L410.04 247.95 L411.37 248.67 L412.70 249.39 L414.04 250.09 L415.39 250.79 L416.74 251.46 L418.10 252.13 L419.46 252.79 L420.83 253.43 L422.20 254.05 L423.58 254.67 L424.97 255.27 L426.36 255.86 L427.75 256.43 L429.15 256.98 L430.56 257.53 L431.97 258.05 L433.38 258.57 L434.80 259.07 L436.23 259.55 L437.66 260.02 L439.10 260.48 L440.54 260.92 L441.98 261.35 L443.43 261.77 L444.88 262.18 L446.34 262.57 L447.80 262.96 L449.26 263.33 L450.73 263.69 L452.20 264.04 L453.67 264.38 L455.15 264.71 L456.63 265.02 L458.11 265.33 L459.60 265.63 L461.09 265.93 L462.58 266.21 L464.07 266.48 L465.57 266.75 L467.06 267.01 L468.56 267.26 L470.06 267.50 L471.56 267.74 L473.07 267.97 L474.57 268.19 L476.08 268.41 L477.59 268.62 L479.09 268.82 L480.60 269.02 L482.11 269.22 L483.62 269.41 L485.13 269.60 L486.64 269.78 L488.15 269.96 L489.66 270.14 L491.17 270.31 L492.68 270.48 L494.19 270.65 L495.70 270.81 L497.21 270.98 L498.72 271.14 L500.22 271.30 L501.73 271.46 L503.23 271.62 L504.74 271.78 L506.24 271.94 L507.74 272.09 L509.23 272.25 L510.73 272.41 L512.22 272.57 L513.71 272.74 L515.20 272.90" fill="none" stroke="#1c1c1c" stroke-width="1.5"/>
<path d="M314.20 222.49 L315.65 222.94 L317.08 223.40 L318.52 223.87 L319.94 224.37 L321.36 224.88 L322.78 225.40 L324.19 225.94 L325.59 226.49 L326.99 227.05 L328.39 227.63 L329.78 228.22 L331.16 228.82 L332.55 229.43 L333.93 230.05 L335.30 230.69 L336.67 231.33 L338.04 231.98 L339.41 232.64 L340.77 233.31 L342.13 233.99 L343.48 234.67 L344.84 235.36 L346.19 236.06 L347.54 236.76 L348.89 237.47 L350.23 238.19 L351.58 238.91 L352.92 239.63 L354.26 240.35 L355.60 241.08 L356.94 241.81 L358.28 242.55 L359.62 243.28 L360.96 244.01 L362.30 244.75 L363.64 245.49 L364.98 246.22 L366.32 246.96 L367.66 247.69 L369.00 248.42 L370.34 249.15 L371.68 249.88 L373.02 250.60 L374.37 251.32 L375.72 252.03 L377.07 252.74 L378.42 253.44 L379.77 254.14 L381.12 254.83 L382.48 255.52 L383.84 256.20 L385.21 256.87 L386.57 257.53 L387.94 258.18 L389.31 258.82 L390.69 259.46 L392.07 260.08 L393.45 260.69 L394.84 261.30 L396.23 261.89 L397.63 262.46 L399.03 263.03 L400.44 263.58 L401.85 264.12 L403.26 264.65 L404.68 265.17 L406.11 265.68 L407.53 266.17 L408.96 266.65 L410.40 267.12 L411.84 267.59 L413.28 268.04 L414.73 268.48 L416.18 268.91 L417.63 269.33 L419.09 269.74 L420.55 270.14 L422.01 270.53 L423.47 270.91 L424.94 271.29 L426.42 271.65 L427.89 272.00 L429.37 272.35 L430.85 272.69 L432.33 273.02 L433.81 273.34 L435.30 273.66 L436.79 273.97 L438.28 274.27 L439.78 274.56 L441.27 274.85 L442.77 275.13 L444.27 275.40 L445.77 275.66 L447.28 275.93 L448.78 276.18 L450.29 276.43 L451.79 276.67 L453.30 276.91 L454.81 277.14 L456.32 277.37 L457.84 277.59 L459.35 277.81 L460.86 278.02 L462.38 278.23 L463.89 278.44 L465.41 278.64 L466.93 278.84 L468.44 279.03 L469.96 279.22 L471.48 279.41 L473.00 279.60 L474.51 279.78 L476.03 279.96 L477.55 280.14 L479.07 280.31 L480.58 280.49 L482.10 280.66 L483.62 280.83 L485.13 281.00 L486.65 281.17 L488.16 281.33 L489.68 281.50 L491.19 281.67 L492.70 281.83 L494.21 282.00 L495.72 282.16 L497.23 282.33 L498.74 282.49 L500.24 282.66 L501.75 282.83 L503.25 283.00 L504.75 283.17 L506.25 283.34 L507.74 283.51 L509.24 283.68 L510.73 283.86 L512.22 284.04 L513.71 284.22 L515.20 284.40" fill="none" stroke="#1a1a1a" stroke-width="1.7" stroke-dasharray="4.6 3.5"/>
<path d="M313.75 272.99 L315.26 273.18 L316.76 273.37 L318.26 273.58 L319.77 273.80 L321.26 274.03 L322.76 274.28 L324.26 274.53 L325.75 274.80 L327.24 275.07 L328.73 275.36 L330.22 275.65 L331.71 275.95 L333.20 276.26 L334.68 276.58 L336.17 276.90 L337.65 277.23 L339.13 277.56 L340.61 277.91 L342.10 278.25 L343.58 278.60 L345.06 278.95 L346.54 279.31 L348.02 279.67 L349.49 280.03 L350.97 280.39 L352.45 280.75 L353.93 281.12 L355.41 281.48 L356.89 281.85 L358.37 282.21 L359.85 282.57 L361.33 282.93 L362.81 283.29 L364.29 283.64 L365.77 284.00 L367.25 284.34 L368.73 284.68 L370.22 285.02 L371.70 285.35 L373.19 285.68 L374.67 286.00 L376.16 286.32 L377.65 286.63 L379.14 286.94 L380.63 287.24 L382.12 287.53 L383.61 287.82 L385.10 288.11 L386.60 288.39 L388.09 288.67 L389.58 288.94 L391.08 289.20 L392.58 289.47 L394.07 289.72 L395.57 289.98 L397.07 290.22 L398.57 290.47 L400.07 290.71 L401.57 290.94 L403.07 291.17 L404.57 291.40 L406.07 291.62 L407.58 291.84 L409.08 292.05 L410.59 292.26 L412.09 292.47 L413.60 292.67 L415.10 292.87 L416.61 293.06 L418.12 293.25 L419.62 293.44 L421.13 293.62 L422.64 293.80 L424.15 293.97 L425.66 294.15 L427.17 294.31 L428.68 294.48 L430.19 294.64 L431.71 294.80 L433.22 294.95 L434.73 295.11 L436.24 295.25 L437.76 295.40 L439.27 295.54 L440.79 295.68 L442.30 295.82 L443.82 295.95 L445.33 296.08 L446.85 296.21 L448.36 296.34 L449.88 296.46 L451.40 296.58 L452.91 296.69 L454.43 296.81 L455.95 296.92 L457.46 297.03 L458.98 297.14 L460.50 297.24 L462.02 297.35 L463.54 297.45 L465.06 297.54 L466.58 297.64 L468.09 297.73 L469.61 297.83 L471.13 297.92 L472.65 298.00 L474.17 298.09 L475.69 298.17 L477.21 298.26 L478.73 298.34 L480.25 298.42 L481.77 298.49 L483.29 298.57 L484.81 298.64 L486.33 298.72 L487.85 298.79 L489.37 298.86 L490.89 298.93 L492.41 299.00 L493.93 299.06 L495.45 299.13 L496.97 299.19 L498.49 299.26 L500.01 299.32 L501.53 299.38 L503.05 299.44 L504.57 299.50 L506.09 299.56 L507.61 299.62 L509.13 299.67 L510.65 299.73 L512.16 299.79 L513.68 299.84 L515.20 299.90" fill="none" stroke="#1a1a1a" stroke-width="1.55"/>
<text class="a" transform="translate(379.0 223.0) scale(0.93 1)" font-size="8.2">Loss</text>
<text class="a" transform="translate(326.1 255.5) scale(0.93 1)" font-size="8.2">Proliferation</text>
<text class="a" transform="translate(363.3 299.5) scale(0.93 1)" font-size="8.2">Thymic export</text>
<text class="p" x="317.2" y="302.8" font-size="14">D</text>
<text class="x" x="414.5" y="336.9" font-size="9.1" text-anchor="middle">Age (years)</text>
<text class="y" transform="translate(279.4 281.3) rotate(-90)" font-size="9.2">Cells per day x10<tspan dy="-2.4" font-size="6.5">-9</tspan></text>
</svg>
</body></html>
